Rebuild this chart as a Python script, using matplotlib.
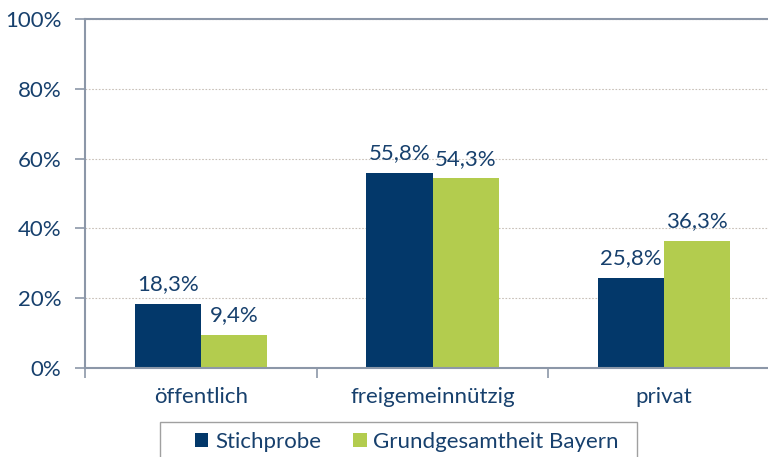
import numpy as np
import matplotlib.pyplot as plt
from matplotlib.ticker import MultipleLocator, FixedLocator
from matplotlib.patches import Rectangle

plt.rcParams['font.family'] = ['Lato', 'DejaVu Sans']

# data
categories = ['öffentlich', 'freigemeinnützig', 'privat']
stichprobe = [18.3, 55.8, 25.8]
grundgesamtheit = [9.4, 54.3, 36.3]
series_names = ['Stichprobe', 'Grundgesamtheit Bayern']

navy = '#03386a'
green = '#b3cc4e'
text_col = '#17406d'
axis_col = '#8c97a8'
fs = 16

fig = plt.figure(figsize=(7.68, 4.57), dpi=100)
ax = fig.add_axes([85 / 768, 1 - 368 / 457, 695 / 768, 349 / 457])

x = np.arange(len(categories))
w = 0.285
b1 = ax.bar(x - w / 2, stichprobe, w, color=navy, label=series_names[0])
b2 = ax.bar(x + w / 2, grundgesamtheit, w, color=green, label=series_names[1])

for bars, vals in ((b1, stichprobe), (b2, grundgesamtheit)):
    for rect, v in zip(bars, vals):
        ax.annotate(f'{v:.1f}%'.replace('.', ','),
                    (rect.get_x() + rect.get_width() / 2, v),
                    xytext=(0, 7), textcoords='offset points',
                    ha='center', va='bottom', fontsize=fs, color=text_col)

ax.set_xlim(-0.5, 2.5)
ax.set_ylim(0, 100)
ax.yaxis.set_major_locator(MultipleLocator(20))
ax.set_yticklabels([f'{int(t)}%' for t in ax.get_yticks()])
ax.set_xticks(x)
ax.set_xticklabels(categories)
ax.xaxis.set_minor_locator(FixedLocator([-0.5, 0.5, 1.5, 2.5]))

ax.tick_params(axis='x', which='major', length=0, pad=14, labelsize=fs, labelcolor=text_col)
ax.tick_params(axis='x', which='minor', length=7, color=axis_col, width=1.2)
ax.tick_params(axis='y', length=7, color=axis_col, width=1.2, labelsize=fs,
               labelcolor=text_col, pad=10)

ax.grid(axis='y', linestyle=(0, (1.5, 1.5)), color='#c8c0b8', linewidth=0.8)
ax.set_axisbelow(True)
for side in ('left', 'bottom', 'top'):
    ax.spines[side].set_color(axis_col)
    ax.spines[side].set_linewidth(1.5)
ax.spines['right'].set_visible(False)

# legend box drawn separately so the padding can differ per side
fig.patches.append(Rectangle((160 / 768, -0.05), 477 / 768, 0.05 + 35 / 457,
                             transform=fig.transFigure, fill=False,
                             edgecolor='#a0a0a0', linewidth=1.0))
leg = fig.legend(loc='center left', bbox_to_anchor=(195 / 768, 1 - 442 / 457),
                 ncol=2, frameon=False, fontsize=fs,
                 handlelength=0.6, handleheight=0.6, columnspacing=1.45,
                 handletextpad=0.3, borderpad=0, borderaxespad=0)
for t in leg.get_texts():
    t.set_color(text_col)

fig.savefig('out.png', dpi=100)
